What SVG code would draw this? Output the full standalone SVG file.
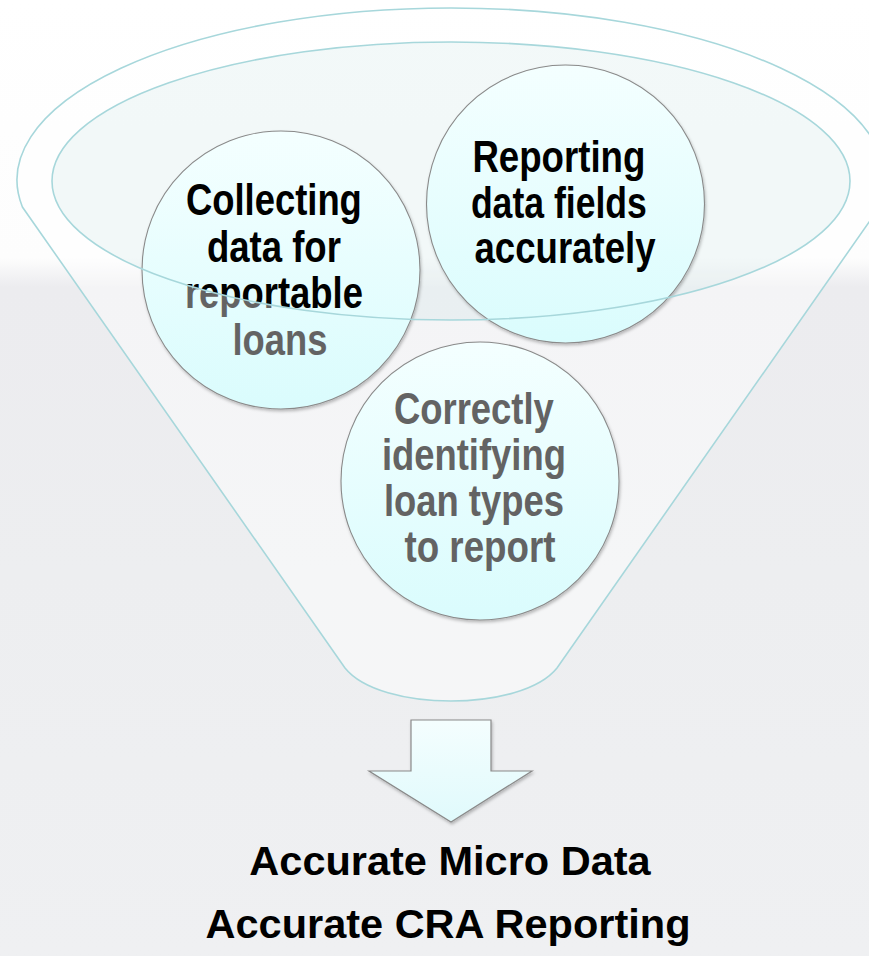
<svg xmlns="http://www.w3.org/2000/svg" width="869" height="956" viewBox="0 0 869 956">
  <defs>
    <linearGradient id="bg" x1="0" y1="0" x2="0" y2="956" gradientUnits="userSpaceOnUse">
      <stop offset="0" stop-color="#ffffff"/>
      <stop offset="0.27" stop-color="#fdfdfd"/>
      <stop offset="0.30" stop-color="#ececef"/>
      <stop offset="0.6" stop-color="#edeef0"/>
      <stop offset="1" stop-color="#eff0f2"/>
    </linearGradient>
    <linearGradient id="ball" x1="0" y1="0" x2="0" y2="1">
      <stop offset="0" stop-color="#f4ffff"/>
      <stop offset="1" stop-color="#dafcfd"/>
    </linearGradient>
    <linearGradient id="arrowFill" x1="0" y1="0" x2="0" y2="1">
      <stop offset="0" stop-color="#f4fefe"/>
      <stop offset="1" stop-color="#e0fafc"/>
    </linearGradient>
    <radialGradient id="rimText" gradientUnits="userSpaceOnUse" cx="451" cy="181" r="399" fx="451" fy="181" gradientTransform="matrix(1 0 0 0.3484 0 117.94)">
      <stop offset="0" stop-color="#000000"/>
      <stop offset="0.997" stop-color="#000000"/>
      <stop offset="1" stop-color="#636363"/>
    </radialGradient>
    <filter id="shadow" x="-10%" y="-10%" width="120%" height="125%">
      <feDropShadow dx="1" dy="2" stdDeviation="1.8" flood-color="#000000" flood-opacity="0.25"/>
    </filter>
  </defs>
  <style>
    .rim { fill: none; stroke: #a7d7db; stroke-width: 1.6; }
    .ball { fill: url(#ball); stroke: #8a8a8a; stroke-width: 1.1; filter: url(#shadow); }
    .lbl { font-family: "Liberation Sans", Arial, sans-serif; font-weight: bold; font-size: 44px; text-anchor: middle; }
    .out { font-family: "Liberation Sans", Arial, sans-serif; font-weight: bold; font-size: 41.5px; text-anchor: middle; fill: #000000; }
  </style>

  <rect x="0" y="0" width="869" height="956" fill="url(#bg)"/>

  <g id="funnel">
    <path d="M 22.4 207 A 434 172 0 1 1 879.6 207 L 557 668 C 522 712 380 712 345 668 Z" fill="#ffffff" fill-opacity="0.45" stroke="#a7d7db" stroke-width="1.6"/>
    <ellipse cx="451" cy="181" rx="399" ry="139" fill="#a9d6d8" fill-opacity="0.14"/>
  </g>

  <g id="node-collecting">
    <circle class="ball" cx="281" cy="270" r="139"/>
    <text class="lbl" fill="url(#rimText)">
      <tspan x="280" y="215" textLength="176" lengthAdjust="spacingAndGlyphs">Collecting</tspan>
      <tspan x="280" y="262" textLength="134" lengthAdjust="spacingAndGlyphs">data for</tspan>
      <tspan x="280" y="308" textLength="178" lengthAdjust="spacingAndGlyphs">reportable</tspan>
      <tspan x="280" y="355" textLength="95" lengthAdjust="spacingAndGlyphs">loans</tspan>
    </text>
  </g>

  <g id="node-reporting">
    <circle class="ball" cx="565.5" cy="204" r="139"/>
    <text class="lbl" fill="#000000">
      <tspan x="565" y="172" textLength="173" lengthAdjust="spacingAndGlyphs">Reporting</tspan>
      <tspan x="565" y="218" textLength="176" lengthAdjust="spacingAndGlyphs">data fields</tspan>
      <tspan x="565" y="263" textLength="181" lengthAdjust="spacingAndGlyphs">accurately</tspan>
    </text>
  </g>

  <g id="node-identifying">
    <circle class="ball" cx="480" cy="481" r="139"/>
    <text class="lbl" fill="#636363">
      <tspan x="480" y="424" textLength="160" lengthAdjust="spacingAndGlyphs">Correctly</tspan>
      <tspan x="480" y="470" textLength="184" lengthAdjust="spacingAndGlyphs">identifying</tspan>
      <tspan x="480" y="516" textLength="180" lengthAdjust="spacingAndGlyphs">loan types</tspan>
      <tspan x="480" y="562" textLength="151" lengthAdjust="spacingAndGlyphs">to report</tspan>
    </text>
  </g>

  <g id="funnel-rim">
    <ellipse class="rim" cx="451" cy="181" rx="399" ry="139"/>
  </g>

  <g id="connectors">
    <path d="M 411 720 L 491 720 L 491 771 L 532 771 L 451 822 L 369 771 L 411 771 Z" fill="url(#arrowFill)" stroke="#8a8a8a" stroke-width="1.2" stroke-linejoin="miter" filter="url(#shadow)"/>
  </g>

  <g id="outcome">
    <text class="out" x="450" y="875">Accurate Micro Data</text>
    <text class="out" x="448" y="938">Accurate CRA Reporting</text>
  </g>
</svg>
